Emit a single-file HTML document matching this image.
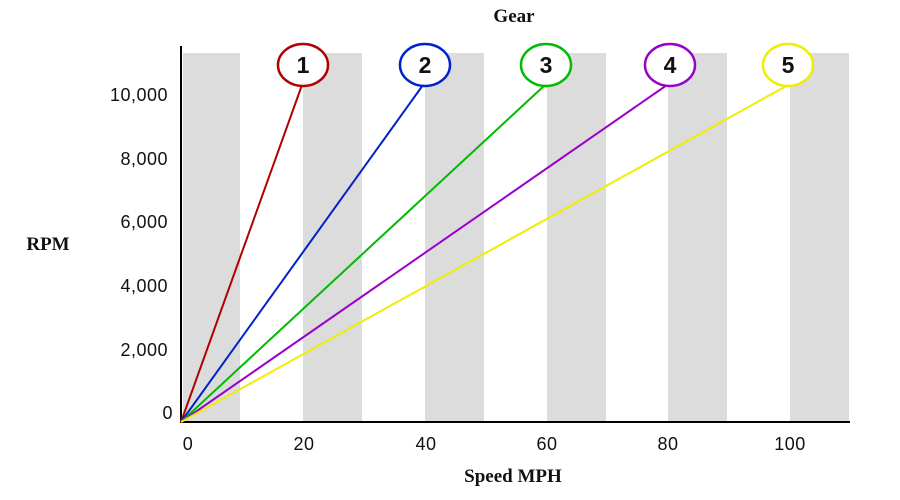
<!DOCTYPE html>
<html><head><meta charset="utf-8"><style>
html,body{margin:0;padding:0;background:#fff;}
svg{display:block}
.t{font-family:"Liberation Sans",sans-serif;font-size:18px;fill:#111;letter-spacing:0.5px}
.s{font-family:"Liberation Serif",serif;font-size:19px;fill:#111;font-weight:bold}
.n{font-family:"Liberation Sans",sans-serif;font-size:23px;fill:#111;font-weight:bold}
</style></head><body>
<svg width="900" height="500" viewBox="0 0 900 500">
<g fill="#dcdcdc">
<rect x="183" y="53" width="57" height="368"/>
<rect x="303" y="53" width="59" height="368"/>
<rect x="425" y="53" width="59" height="368"/>
<rect x="547" y="53" width="59" height="368"/>
<rect x="668" y="53" width="59" height="368"/>
<rect x="790" y="53" width="59" height="368"/>
</g>
<line x1="181" y1="46" x2="181" y2="423" stroke="#000" stroke-width="2"/>
<line x1="180" y1="422" x2="850" y2="422" stroke="#000" stroke-width="2"/>
<g stroke-width="2" fill="none">
<line x1="181" y1="422" x2="302" y2="85" stroke="#b00000"/>
<line x1="181" y1="422" x2="423" y2="85" stroke="#0022cc"/>
<line x1="181" y1="422" x2="545" y2="85" stroke="#00bb00"/>
<line x1="181" y1="422" x2="667" y2="85" stroke="#9900cc"/>
<line x1="181" y1="422" x2="788" y2="85" stroke="#eeee00"/>
</g>
<g stroke-width="2.5" fill="#fff">
<ellipse cx="303" cy="65" rx="25" ry="21" stroke="#b00000"/>
<ellipse cx="425" cy="65" rx="25" ry="21" stroke="#0022cc"/>
<ellipse cx="546" cy="65" rx="25" ry="21" stroke="#00bb00"/>
<ellipse cx="670" cy="65" rx="25" ry="21" stroke="#9900cc"/>
<ellipse cx="788" cy="65" rx="25" ry="21" stroke="#eeee00"/>
</g>
<g class="n" text-anchor="middle">
<text x="303" y="73">1</text>
<text x="425" y="73">2</text>
<text x="546" y="73">3</text>
<text x="670" y="73">4</text>
<text x="788" y="73">5</text>
</g>
<g class="t" text-anchor="end">
<text x="168" y="101">10,000</text>
<text x="168" y="165">8,000</text>
<text x="168" y="228">6,000</text>
<text x="168" y="292">4,000</text>
<text x="168" y="356">2,000</text>
<text x="173" y="419">0</text>
</g>
<g class="t" text-anchor="middle">
<text x="188" y="450">0</text>
<text x="304" y="450">20</text>
<text x="426" y="450">40</text>
<text x="547" y="450">60</text>
<text x="668" y="450">80</text>
<text x="790" y="450">100</text>
</g>
<text class="s" x="513" y="482" text-anchor="middle">Speed MPH</text>
<text class="s" x="514" y="22" text-anchor="middle">Gear</text>
<text class="s" x="48" y="250" text-anchor="middle">RPM</text>
</svg>
</body></html>
